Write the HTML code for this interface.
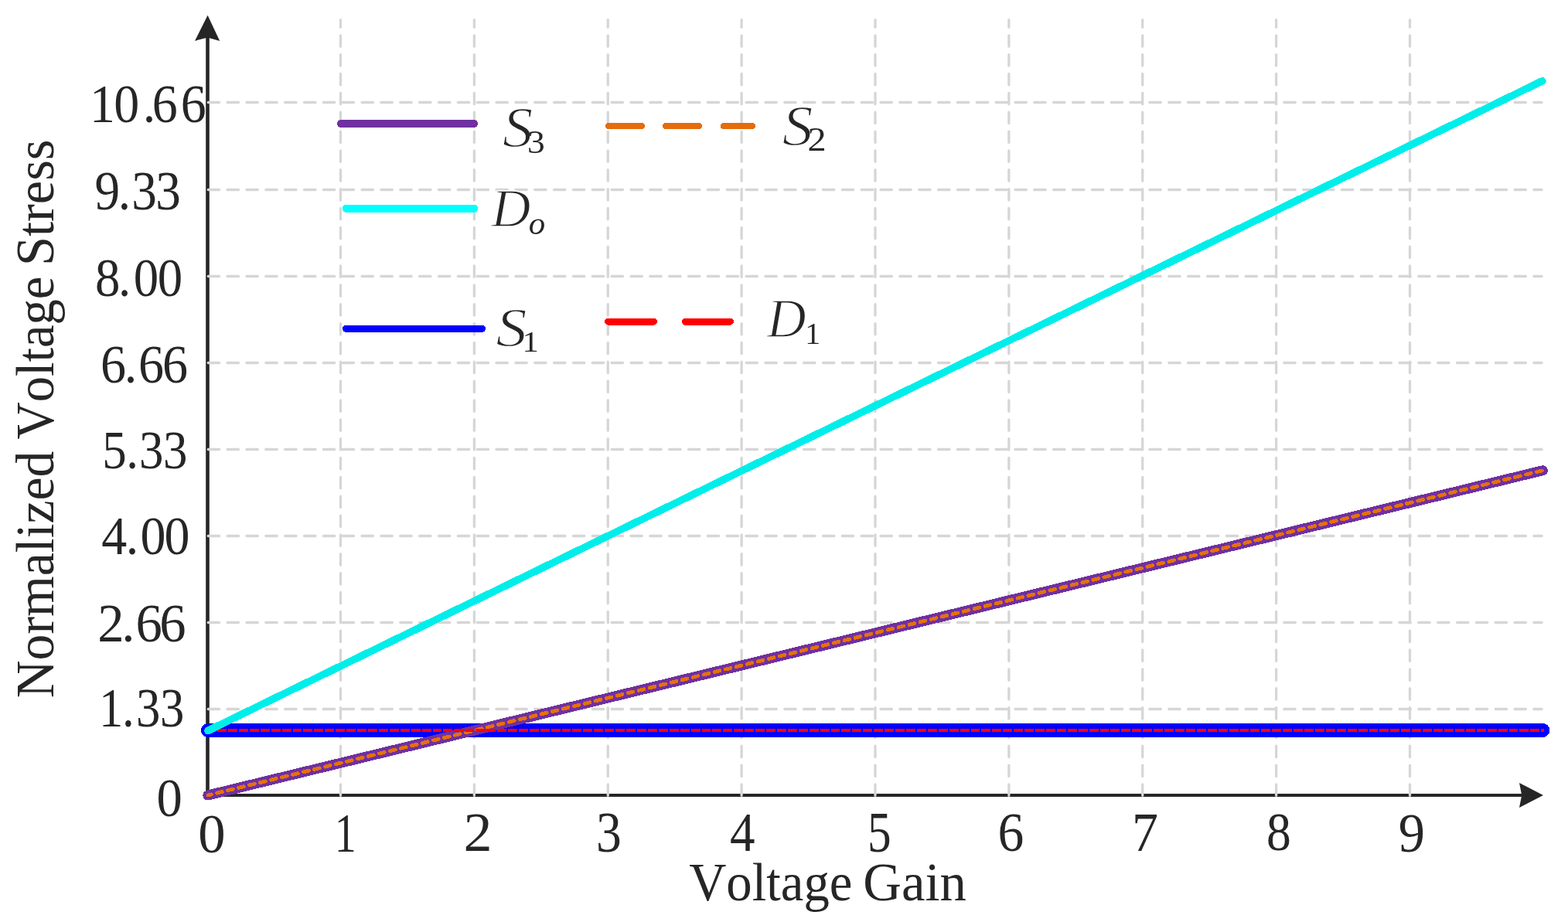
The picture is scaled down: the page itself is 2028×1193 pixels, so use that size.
<!DOCTYPE html>
<html><head><meta charset="utf-8"><title>Normalized Voltage Stress vs Voltage Gain</title>
<style>
html,body{margin:0;padding:0;background:#fff;}
body{width:2028px;height:1193px;overflow:hidden;}
svg{display:block;}
</style></head>
<body>
<svg width="2028" height="1193" viewBox="0 0 2028 1193">
<rect width="2028" height="1193" fill="#fff"/>
<!-- axes -->
<g fill="#262626" stroke="none">
<rect x="266.2" y="48" width="4.6" height="983"/>
<rect x="266.2" y="1027" width="1702" height="4"/>
<path d="M268.6 19.8L284.2 52.9L268.5 48.4L252.0 52.9Z"/>
<path d="M1996 1028.9L1965 1044.9L1968.2 1028.9L1965 1012.9Z"/>
</g>
<!-- grid -->
<g stroke="#d6d6d6" stroke-width="3.3" fill="none" stroke-linecap="round" stroke-dasharray="14.4 10.45">
<path d="M269.25 917.50H1994.15"/>
<path d="M269.25 805.50H1994.15"/>
<path d="M269.25 693.50H1994.15"/>
<path d="M269.25 581.50H1994.15"/>
<path d="M269.25 469.50H1994.15"/>
<path d="M269.25 357.50H1994.15"/>
<path d="M269.25 245.50H1994.15"/>
<path d="M269.25 132.50H1994.15"/>
<path d="M440.50 1029.35V25.55"/>
<path d="M613.38 1029.35V25.55"/>
<path d="M786.25 1029.35V25.55"/>
<path d="M959.12 1029.35V25.55"/>
<path d="M1132.00 1029.35V25.55"/>
<path d="M1304.88 1029.35V25.55"/>
<path d="M1477.75 1029.35V25.55"/>
<path d="M1650.62 1029.35V25.55"/>
<path d="M1823.50 1029.35V25.55"/>
</g>
<!-- data lines -->
<g fill="none" stroke-linecap="round" stroke-linejoin="round" shape-rendering="crispEdges">
<path d="M268.90 944.95H1995.40" stroke="#0000ff" stroke-width="18"/>
<path d="M268.90 1029.00L1995.40 608.75" stroke="#7030a0" stroke-width="13"/>
<path d="M268.90 1029.00L1995.40 608.75" stroke="#e6700c" stroke-width="4.8" stroke-dasharray="7.0 7.4" stroke-dashoffset="2.4"/>
<path d="M267.2 944.95H1997" stroke="#ff0000" stroke-width="4" stroke-dasharray="11.9 2.02" stroke-linecap="butt"/>
<path d="M268.90 945.50L1994.80 104.75" stroke="#00eeea" stroke-width="9.6"/>
</g>
<!-- legend -->
<g fill="none" stroke-linecap="round" shape-rendering="crispEdges">
<path d="M440.9 159.9H613.1" stroke="#7030a0" stroke-width="10"/>
<path d="M448 269.8H613.1" stroke="#00ffff" stroke-width="10.4"/>
<path d="M447.5 425.2H623.4" stroke="#0000ff" stroke-width="9.2"/>
<path d="M787 163.1H829.8M861.2 163.1H903.8M935.8 163.1H973.1" stroke="#e46c0a" stroke-width="7.9"/>
<path d="M786.6 416.2H845.4M886.3 416.2H944.5" stroke="#ff0000" stroke-width="9"/>
</g>
<!-- text -->
<g fill="#262626" font-family="'Liberation Serif', 'Times New Roman', serif" font-size="100" style="font-kerning:none;font-variant-ligatures:none">
<text transform="matrix(0.6595 0 0 0.7029 0 158.19)" x="175.74 223.46 280.08 298.31 354.42">10.66</text>
<text transform="matrix(0.6516 0 0 0.7149 0 271.19)" x="188.06 234.26 261.22 308.79">9.33</text>
<text transform="matrix(0.6481 0 0 0.7029 0 382.69)" x="189.64 235.93 266.48 314.47">8.00</text>
<text transform="matrix(0.6608 0 0 0.7029 0 494.59)" x="196.64 243.24 270.94 317.93">6.66</text>
<text transform="matrix(0.6289 0 0 0.6940 0 605.91)" x="210.18 259.41 286.14 335.35">5.33</text>
<text transform="matrix(0.6594 0 0 0.6971 0 717.01)" x="199.02 246.82 275.11 322.28">4.00</text>
<text transform="matrix(0.6872 0 0 0.7059 0 829.59)" x="183.73 228.99 255.34 300.31">2.66</text>
<text transform="matrix(0.6270 0 0 0.7149 0 940.39)" x="204.16 252.18 280.71 330.31">1.33</text>
<text transform="matrix(0.6667 0 0 0.7059 202.43 1056.29)">0</text>
<text transform="matrix(0.7071 0 0 0.7162 256.17 1102.77)">0</text>
<text transform="matrix(0.5600 0 0 0.7273 432.76 1101.50)">1</text>
<text transform="matrix(0.7415 0 0 0.7164 599.43 1100.78)">2</text>
<text transform="matrix(0.6561 0 0 0.7299 770.92 1101.97)">3</text>
<text transform="matrix(0.6511 0 0 0.7258 944.10 1100.97)">4</text>
<text transform="matrix(0.6125 0 0 0.7409 1122.12 1101.96)">5</text>
<text transform="matrix(0.6767 0 0 0.7191 1290.59 1101.26)">6</text>
<text transform="matrix(0.6805 0 0 0.7212 1463.92 1101.38)">7</text>
<text transform="matrix(0.6357 0 0 0.7029 1637.96 1100.29)">8</text>
<text transform="matrix(0.6837 0 0 0.7284 1808.65 1101.97)">9</text>
<text transform="matrix(0.7854 0 0 0.7324 649.91 190.34)"><tspan font-style="italic" stroke="#fff" stroke-width="1.8">S</tspan><tspan x="40.81" y="9.82" font-size="58.10">3</tspan></text>
<text transform="matrix(0.7937 0 0 0.7324 1011.71 187.54)"><tspan font-style="italic" stroke="#fff" stroke-width="1.8">S</tspan><tspan x="41.19" y="10.79" font-size="60.93">2</tspan></text>
<text transform="matrix(0.7028 0 0 0.7030 635.50 292.50)"><tspan font-style="italic" stroke="#fff" stroke-width="1.8">D</tspan><tspan x="68.63" y="14.24" font-size="60.98" font-style="italic">o</tspan></text>
<text transform="matrix(0.8000 0 0 0.7250 641.40 448.05)"><tspan font-style="italic" stroke="#fff" stroke-width="1.8">S</tspan><tspan x="42.50" y="9.73" font-size="53.33">1</tspan></text>
<text transform="matrix(0.7000 0 0 0.7121 992.10 435.89)"><tspan font-style="italic" stroke="#fff" stroke-width="1.8">D</tspan><tspan x="70.12" y="12.23" font-size="57.01">1</tspan></text>
<text transform="matrix(0.6676 0 0 0.6989 891.13 1165.22)">Voltage</text>
<text transform="matrix(0.6878 0 0 0.6989 1116.25 1165.22)">Gain</text>
<text transform="matrix(0 -0.6776 0.6878 0 69.36 903.33)">Normalized</text>
<text transform="matrix(0 -0.6663 0.6878 0 69.36 568.47)">Voltage</text>
<text transform="matrix(0 -0.6848 0.6878 0 69.36 344.11)">Stress</text>
</g>
</svg>
</body></html>
